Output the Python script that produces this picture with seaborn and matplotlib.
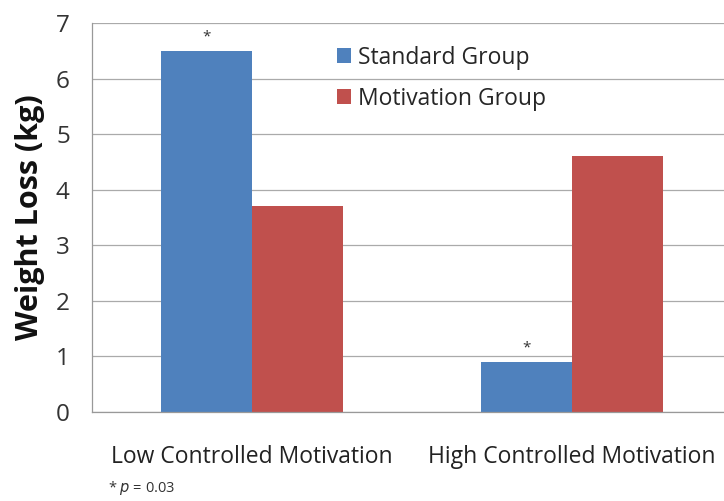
import pandas as pd
import numpy as np
import seaborn as sns
import matplotlib.pyplot as plt
from matplotlib.ticker import FixedLocator

categories = ["Low Controlled Motivation", "High Controlled Motivation"]
groups = ["Standard Group", "Motivation Group"]
standard_values = [6.5, 0.9]
motivation_values = [3.7, 4.6]
significant = [True, True]

colors = {"Standard Group": "#4F81BD", "Motivation Group": "#C0504D"}

df = pd.DataFrame({
    "Category": categories * 2,
    "Group": [groups[0]] * 2 + [groups[1]] * 2,
    "Value": standard_values + motivation_values,
})

sns.set_style("white")
plt.rcParams['font.family'] = ['Open Sans', 'DejaVu Sans']

fig = plt.figure(figsize=(7.24, 5.01), dpi=100)
ax = fig.add_axes([92 / 724, 89 / 501, 632 / 724, 389 / 501])

sns.barplot(data=df, x="Category", y="Value", hue="Group", order=categories,
            hue_order=groups, palette=colors, width=0.57, saturation=1,
            ax=ax, errorbar=None, linewidth=0)

ax.set_ylim(0, 7)
ax.set_xlim(-0.5, 1.475)
ax.set_yticks(range(8))
ax.yaxis.grid(True, color="#AAAAAA", linewidth=0.9)
ax.set_axisbelow(True)
for s in ["top", "right"]:
    ax.spines[s].set_visible(False)
for s in ["left", "bottom"]:
    ax.spines[s].set_color("#999999")
    ax.spines[s].set_linewidth(0.9)

ax.tick_params(axis="y", length=7, color="#999999", width=0.9, labelsize=17.5, pad=9, labelcolor="#333333")
ax.tick_params(axis="x", which="major", length=0, labelsize=16.5, pad=24, labelcolor="#222222")
ax.xaxis.set_minor_locator(FixedLocator([-0.5, 0.5]))
ax.tick_params(axis="x", which="minor", length=8, color="#999999", width=0.9)

ax.set_xlabel("")
ax.set_ylabel("Weight Loss (kg)", fontsize=22, fontweight="bold", labelpad=8, color="#111111")

# asterisks above standard bars
std_bars = ax.containers[0]
for bar, sig in zip(std_bars, significant):
    if sig:
        ax.text(bar.get_x() + bar.get_width() / 2, bar.get_height() + 0.12, "*",
                ha="center", va="bottom", fontsize=11, color="#333333")

ax.legend(loc="upper left", bbox_to_anchor=(0.355, 0.995), frameon=False,
          fontsize=16.5, handlelength=0.6, handleheight=0.6, handletextpad=0.3,
          labelspacing=0.75)

fig.text(108 / 724, 1 - 488 / 501, r"* $\it{p}$ = 0.03", fontsize=10.5,
         color="#333333", va="center", ha="left")

fig.savefig("out.png", dpi=100)
